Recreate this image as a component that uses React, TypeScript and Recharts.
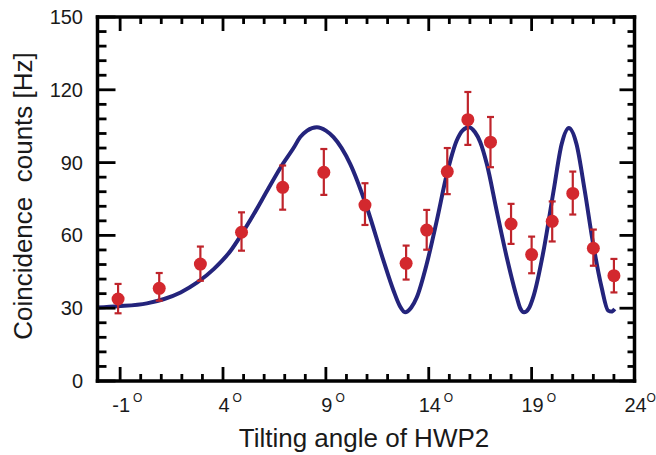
import React from "react";
import {
  ComposedChart,
  Line,
  Scatter,
  ErrorBar,
  XAxis,
  YAxis,
} from "recharts";

// ---- data ----
const curveX = [
  -2.1, -1.1, 0.3, 1.14, 1.94, 2.75, 3.56, 4.37, 4.86, 5.5, 6.15, 6.8, 7.45,
  7.75, 8.09, 8.56, 9.0, 9.37, 10.18, 10.99, 11.8, 12.29, 12.6, 12.85, 13.15,
  13.42, 13.9, 14.39, 14.88, 15.36, 15.65, 15.95, 16.25, 16.5, 16.82, 17.3,
  17.79, 18.28, 18.45, 18.63, 18.85, 19.1, 19.58, 20.07, 20.46, 20.81, 21.18,
  21.58, 21.99, 22.4, 22.72, 22.88, 23.04,
];
const curveY = [
  30.3, 30.8, 32, 33.8, 36.5, 40.6, 46.2, 53.7, 59.9, 68.8, 78.5, 88, 96.3,
  100.5, 103.2, 104.6, 103.2, 100.5, 89.5, 71.6, 49.6, 37.2, 30.8, 28.3, 30.3,
  34.5, 48.2, 66.1, 85.3, 99.1, 103.3, 104.6, 102.5, 98.5, 89.5, 70.2, 51,
  34.5, 29.9, 28.3, 29.7, 35.2, 53.7, 78.5, 97.7, 104.3, 97.7, 78.5, 56.5,
  38.6, 29, 28.6, 29.7,
];

const pointX = [
  -1.1, 0.9, 2.9, 4.9, 6.9, 8.9, 10.9, 12.9, 13.9, 14.9, 15.9, 17, 18, 19, 20,
  21, 22, 23,
];
const pointY = [
  33.8, 38.2, 48.2, 61.3, 79.8, 86, 72.5, 48.5, 62.2, 86.3, 107.7, 98.4, 64.7,
  52.1, 65.8, 77.3, 54.7, 43.4,
];
const errPlus = [
  6.2, 6.3, 7.2, 8.2, 9, 9.6, 9, 7.3, 8.3, 9.7, 11.4, 10.4, 8.3, 7.4, 8.2, 9,
  7.7, 6.9,
];
const errMinus = [
  5.9, 5.1, 6.9, 7.6, 9.2, 9.3, 8.2, 6.7, 8.1, 9.3, 10.4, 10.3, 8.2, 7.7, 8.3,
  8.7, 7.2, 6.9,
];

const xTicks = [
  -1, 0, 1, 2, 3, 4, 5, 6, 7, 8, 9, 10, 11, 12, 13, 14, 15, 16, 17, 18, 19, 20,
  21, 22, 23, 24,
];
const xMajor = [-1, 4, 9, 14, 19, 24];
const yTicks = [
  0, 6, 12, 18, 24, 30, 36, 42, 48, 54, 60, 66, 72, 78, 84, 90, 96, 102, 108,
  114, 120, 126, 132, 138, 144, 150,
];
const yMajor = [0, 30, 60, 90, 120, 150];

const xTitle = "Tilting angle of HWP2";
const yTitle = "Coincidence\u00a0 counts [Hz]";

// ---- layout ----
const W = 656;
const H = 455;
const PL = 97.5;
const PR = 634.5;
const PT = 17;
const PB = 381;
const FONT = "'Liberation Sans', Arial, Helvetica, sans-serif";
const TXT = "#1a1a1a";
const CURVE = "#24247c";
const DOT = "#d3282e";
const ERR = "#bf242b";

const curveData = curveX.map((x, i) => ({ x, y: curveY[i] }));
const pointData = pointX.map((x, i) => ({
  x,
  y: pointY[i],
  err: [errMinus[i], errPlus[i]],
}));

const numWidth = (s: string) =>
  s.split("").reduce((a, c) => a + (c === "-" ? 6.66 : 11.12), 0);

const BottomTick = (props: any) => {
  const { x, payload } = props;
  const v = payload.value;
  const major = xMajor.includes(v);
  const s = String(v);
  const w = numWidth(s);
  const cx = x + 1;
  const ox = Math.min(cx + w / 2 + 3, W - 9.5);
  return (
    <g>
      <line
        x1={x}
        x2={x}
        y1={PB}
        y2={PB - (major ? 14 : 7)}
        stroke="#000"
        strokeWidth={2.8}
      />
      {major && (
        <g fontFamily={FONT} fill={TXT}>
          <text x={cx} y={412} fontSize={20} textAnchor="middle">
            {s}
          </text>
          <text x={ox} y={402} fontSize={12} textAnchor="start">
            O
          </text>
        </g>
      )}
    </g>
  );
};

const TopTick = (props: any) => {
  const { x, payload } = props;
  const major = xMajor.includes(payload.value);
  return (
    <line
      x1={x}
      x2={x}
      y1={PT}
      y2={PT + (major ? 14 : 7)}
      stroke="#000"
      strokeWidth={2.8}
    />
  );
};

const LeftTick = (props: any) => {
  const { y, payload } = props;
  const v = payload.value;
  const major = yMajor.includes(v);
  return (
    <g>
      <line
        x1={PL}
        x2={PL + (major ? 18 : 9)}
        y1={y}
        y2={y}
        stroke="#000"
        strokeWidth={2.8}
      />
      {major && (
        <text
          x={83}
          y={y}
          dy={7}
          fontSize={20}
          fontFamily={FONT}
          fill={TXT}
          textAnchor="end"
        >
          {v}
        </text>
      )}
    </g>
  );
};

const RightTick = (props: any) => {
  const { y, payload } = props;
  const major = yMajor.includes(payload.value);
  return (
    <line
      x1={PR}
      x2={PR - (major ? 15 : 7)}
      y1={y}
      y2={y}
      stroke="#000"
      strokeWidth={2.8}
    />
  );
};

const XTitle = () => (
  <text
    x={364}
    y={447}
    fontSize={26}
    fontFamily={FONT}
    fill={TXT}
    textAnchor="middle"
  >
    {xTitle}
  </text>
);

const YTitle = () => (
  <text
    x={32}
    y={196}
    fontSize={26}
    fontFamily={FONT}
    fill={TXT}
    textAnchor="middle"
    transform="rotate(-90, 32, 196)"
  >
    {yTitle}
  </text>
);

const frame = {
  stroke: "#000",
  strokeWidth: 3.5,
  strokeLinecap: "square" as const,
};

export default function App() {
  return (
    <div style={{ position: "absolute", left: 0, top: 0, background: "#fff" }}>
      <ComposedChart
        width={W}
        height={H}
        margin={{ top: PT - 1, left: PL - 1, right: W - PR - 1, bottom: H - PB - 1 }}
      >
        <XAxis
          xAxisId="bottom"
          type="number"
          dataKey="x"
          domain={[-2.1, 24]}
          ticks={xTicks}
          interval={0}
          height={1}
          tickSize={0}
          tickMargin={0}
          tickLine={false}
          axisLine={frame}
          tick={<BottomTick />}
          allowDataOverflow
          label={<XTitle />}
        />
        <XAxis
          xAxisId="top"
          orientation="top"
          type="number"
          dataKey="x"
          domain={[-2.1, 24]}
          ticks={xTicks}
          interval={0}
          height={1}
          tickSize={0}
          tickMargin={0}
          tickLine={false}
          axisLine={frame}
          tick={<TopTick />}
          allowDataOverflow
        />
        <YAxis
          yAxisId="left"
          type="number"
          domain={[0, 150]}
          ticks={yTicks}
          interval={0}
          width={1}
          tickSize={0}
          tickMargin={0}
          tickLine={false}
          axisLine={frame}
          tick={<LeftTick />}
          allowDataOverflow
          label={<YTitle />}
        />
        <YAxis
          yAxisId="right"
          orientation="right"
          type="number"
          domain={[0, 150]}
          ticks={yTicks}
          interval={0}
          width={1}
          tickSize={0}
          tickMargin={0}
          tickLine={false}
          axisLine={frame}
          tick={<RightTick />}
          allowDataOverflow
        />
        <Line
          xAxisId="bottom"
          yAxisId="left"
          data={curveData}
          dataKey="y"
          type="monotone"
          stroke={CURVE}
          strokeWidth={4}
          dot={false}
          activeDot={false}
          isAnimationActive={false}
        />
        <Scatter
          xAxisId="bottom"
          yAxisId="left"
          data={pointData}
          dataKey="y"
          fill={DOT}
          shape={(p: any) => <circle cx={p.cx} cy={p.cy} r={6.5} fill={DOT} />}
          isAnimationActive={false}
        >
          <ErrorBar
            dataKey="err"
            direction="y"
            width={3.5}
            stroke={ERR}
            strokeWidth={2.2}
            isAnimationActive={false}
          />
        </Scatter>
      </ComposedChart>
    </div>
  );
}
